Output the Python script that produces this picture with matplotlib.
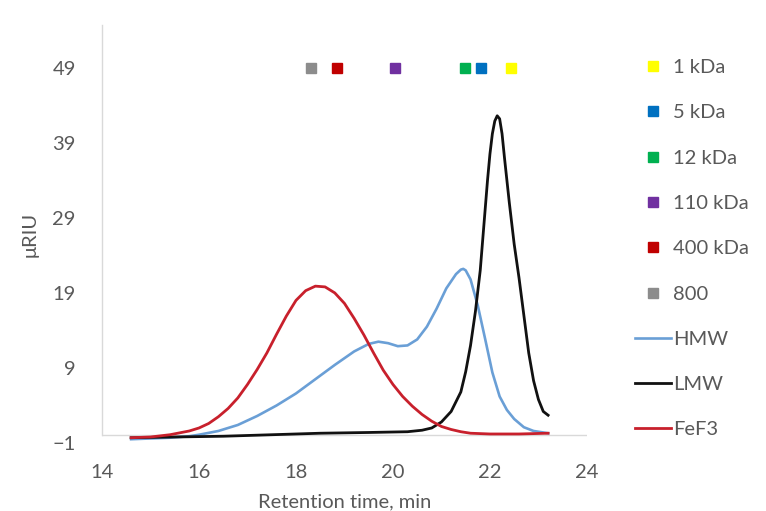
import matplotlib
matplotlib.use("Agg")
import matplotlib.pyplot as plt

plt.rcParams['font.family'] = ['Lato', 'DejaVu Sans']

# Calibration standards: retention time (min) at the marker row
std_labels = ["1 kDa", "5 kDa", "12 kDa", "110 kDa", "400 kDa", "800"]
std_times = [22.43, 21.81, 21.48, 20.04, 18.85, 18.31]
std_level = [49, 49, 49, 49, 49, 49]
std_colors = ["#FFFF00", "#0070C0", "#00B050", "#7030A0", "#C00000", "#8C8C8C"]

# HMW fraction
hmw_t = [14.6, 15.0, 15.4, 15.8, 16.0, 16.4, 16.8, 17.2, 17.6, 18.0, 18.4,
         18.8, 19.2, 19.5, 19.7, 19.9, 20.1, 20.3, 20.5, 20.7, 20.9, 21.1,
         21.3, 21.4, 21.45, 21.5, 21.6, 21.75, 21.9, 22.05, 22.2, 22.35,
         22.5, 22.7, 22.9, 23.2]
hmw_y = [-0.5, -0.4, -0.3, -0.1, 0.1, 0.6, 1.4, 2.6, 4.0, 5.6, 7.5,
         9.4, 11.2, 12.2, 12.5, 12.3, 11.9, 12.0, 12.8, 14.5, 16.9, 19.6,
         21.5, 22.1, 22.2, 22.0, 20.8, 17.3, 12.9, 8.4, 5.2, 3.4,
         2.2, 1.1, 0.6, 0.3]

# LMW fraction
lmw_t = [14.6, 15.5, 16.5, 17.5, 18.5, 19.5, 20.3, 20.6, 20.8, 21.0, 21.2,
         21.4, 21.5, 21.6, 21.7, 21.8, 21.85, 21.9, 21.95, 22.0, 22.05, 22.1,
         22.15, 22.2, 22.25, 22.3, 22.35, 22.4, 22.5, 22.6, 22.7, 22.8,
         22.9, 23.0, 23.1, 23.2]
lmw_y = [-0.3, -0.2, -0.1, 0.1, 0.3, 0.4, 0.5, 0.7, 1.0, 1.8, 3.2,
         5.8, 8.5, 12.0, 16.5, 22.0, 26.0, 30.0, 34.0, 37.5, 40.2, 41.9,
         42.6, 42.2, 40.2, 37.0, 34.0, 31.0, 25.5, 21.0, 16.0, 11.0,
         7.3, 4.8, 3.2, 2.7]

# FeF3
fef3_t = [14.6, 15.0, 15.4, 15.8, 16.0, 16.2, 16.4, 16.6, 16.8, 17.0, 17.2,
          17.4, 17.6, 17.8, 18.0, 18.2, 18.4, 18.6, 18.8, 19.0, 19.2, 19.4,
          19.6, 19.8, 20.0, 20.2, 20.4, 20.6, 20.8, 21.0, 21.2, 21.4, 21.6,
          22.0, 22.6, 23.2]
fef3_y = [-0.3, -0.2, 0.1, 0.6, 1.0, 1.6, 2.5, 3.6, 5.0, 6.8, 8.8,
          11.0, 13.5, 15.9, 18.0, 19.3, 19.9, 19.8, 19.0, 17.6, 15.6, 13.4,
          11.0, 8.7, 6.8, 5.2, 3.9, 2.8, 1.9, 1.2, 0.8, 0.5, 0.3,
          0.2, 0.2, 0.3]

x_ticks = [14, 16, 18, 20, 22, 24]
y_ticks = [-1, 9, 19, 29, 39, 49]

text_color = "#595959"
axis_color = "#D9D9D9"
y_top = 54.7

fig = plt.figure(figsize=(7.66, 5.11), dpi=100)
ax = fig.add_axes([0.1332, 0.1331, 0.633, 0.818])

for t, lvl, c, lab in zip(std_times, std_level, std_colors, std_labels):
    ax.plot([t], [lvl], linestyle="none", marker="s", markersize=6.5,
            color=c, label=lab)

ax.plot(hmw_t, hmw_y, color="#6A9FD6", lw=1.9, label="HMW",
        solid_joinstyle="round")
ax.plot(lmw_t, lmw_y, color="#111111", lw=2.0, label="LMW",
        solid_joinstyle="round")
ax.plot(fef3_t, fef3_y, color="#C8202C", lw=2.0, label="FeF3",
        solid_joinstyle="round")

ax.set_xlim(14, 24)
ax.set_ylim(-1, y_top)
ax.set_xticks(x_ticks)
ax.set_yticks(y_ticks)
ax.tick_params(axis="both", length=0, labelsize=14.5, colors=text_color)
ax.tick_params(axis="x", pad=15)
ax.tick_params(axis="y", pad=19)

for side in ("top", "right", "bottom"):
    ax.spines[side].set_visible(False)
ax.spines["left"].set_color(axis_color)
ax.spines["left"].set_linewidth(1.0)
ax.spines["left"].set_bounds(0, y_top)
# horizontal axis line crosses at zero
ax.axhline(0, color=axis_color, lw=1.0, zorder=0)

ax.set_xlabel("Retention time, min", fontsize=14.5, color=text_color)
ax.xaxis.set_label_coords(0.5, -0.12)
ax.set_ylabel("μRIU", fontsize=14.5, color=text_color, labelpad=10)

fig.legend(loc="upper left", bbox_to_anchor=(635 / 766, 1 - 59 / 511),
           frameon=False, fontsize=14.5, labelcolor=text_color,
           handlelength=1.8, handletextpad=0.1, labelspacing=1.40,
           borderpad=0, borderaxespad=0)

fig.savefig("out.png", dpi=100)
